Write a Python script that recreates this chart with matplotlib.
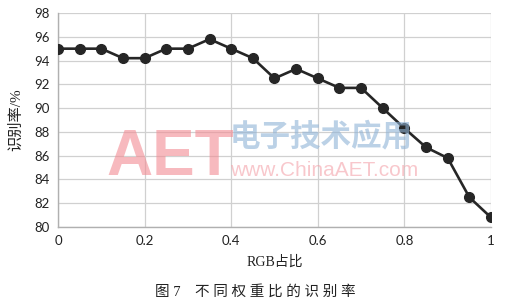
import matplotlib
matplotlib.use("Agg")
import matplotlib.pyplot as plt
import numpy as np

# RGB share vs recognition rate (%)
rgb_ratio = [0, 0.05, 0.1, 0.15, 0.2, 0.25, 0.3, 0.35, 0.4, 0.45, 0.5,
             0.55, 0.6, 0.65, 0.7, 0.75, 0.8, 0.85, 0.9, 0.95, 1.0]
rate = [95, 95, 95, 94.2, 94.2, 95, 95, 95.8, 95, 94.2, 92.5,
        93.3, 92.5, 91.7, 91.7, 90, 88.3, 86.7, 85.8, 82.5, 80.8]
x_ticks = [0, 0.2, 0.4, 0.6, 0.8, 1]
x_tick_labels = ["0", "0.2", "0.4", "0.6", "0.8", "1"]
y_ticks = [80, 82, 84, 86, 88, 90, 92, 94, 96, 98]

cjk_serif = ["Liberation Serif", "Noto Sans CJK SC"]

fig = plt.figure(figsize=(5.10, 2.99), dpi=100)
ax = fig.add_axes([58 / 510, 1 - 227 / 299, (491 - 58) / 510, (227 - 13) / 299])

ax.plot(rgb_ratio, rate, color="#262626", lw=1.9, marker="o", ms=7,
        markerfacecolor="#262626", markeredgecolor="#262626", zorder=3)

ax.set_xlim(0, 1)
ax.set_ylim(80, 98)
ax.set_xticks(x_ticks)
ax.set_xticklabels(x_tick_labels)
ax.set_yticks(y_ticks)
ax.grid(True, color="#d0d0d0", lw=0.9)
ax.set_axisbelow(True)
for s in ["top", "right"]:
    ax.spines[s].set_visible(False)
for s in ["left", "bottom"]:
    ax.spines[s].set_color("#b0b0b0")
    ax.spines[s].set_linewidth(1.0)
ax.tick_params(length=0, labelsize=9.5, colors="#222222", pad=6)
for lab in ax.get_xticklabels() + ax.get_yticklabels():
    lab.set_family("Lato")

ax.set_xlabel("RGB占比", family=cjk_serif, fontsize=10, color="#222222", labelpad=6)
ax.set_ylabel("识别率/%", family=cjk_serif, fontsize=11, color="#222222", labelpad=8)

# watermark
fig.text(106 / 510, 1 - 175 / 299, "AET", fontsize=46, color="#f28b93", alpha=0.6,
         family="Liberation Sans", weight="bold", ha="left", va="baseline", zorder=5)
fig.text(230 / 510, 1 - 136 / 299, "电子技术应用", fontsize=22, color="#8fb3d6", alpha=0.6,
         family="Noto Sans CJK SC", weight="bold", ha="left", va="center", zorder=5)
fig.text(230 / 510, 1 - 171 / 299, "www.ChinaAET.com", fontsize=15, color="#f4a3aa", alpha=0.6,
         family="Liberation Sans", ha="left", va="center", zorder=5)

fig.text(0.5, 1 - 292 / 299, "图 7    不 同 权 重 比 的 识 别 率", family=cjk_serif,
         fontsize=10.5, color="#222222", ha="center", va="center")

fig.savefig("out.png", dpi=100)
